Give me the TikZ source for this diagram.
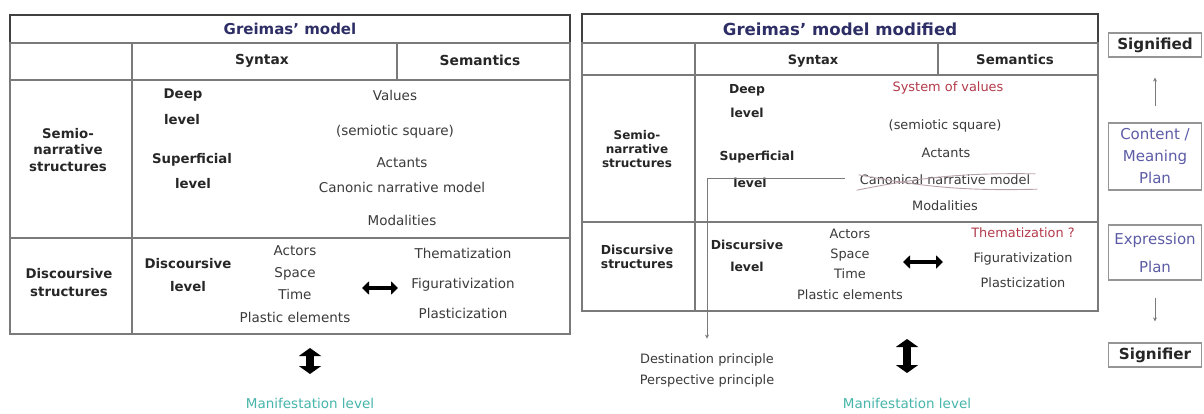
\documentclass[tikz,border=0pt]{standalone}
\usepackage{fontspec}
\setmainfont{DejaVu Sans}
\usetikzlibrary{positioning, arrows.meta, calc}
\definecolor{gmnavy}{HTML}{2E2E66}
\definecolor{gmred}{HTML}{B23A4A}
\definecolor{gmteal}{HTML}{45B5AA}
\definecolor{gmpurple}{HTML}{5C5CA6}
\definecolor{gmgrid}{HTML}{7A7A7A}
\definecolor{gmtext}{HTML}{3A3A3A}
\definecolor{gmcross}{HTML}{B8A2AA}

\begin{document}
\begin{tikzpicture}[x=1pt, y=-1pt,
    grid/.style={draw=gmgrid, line width=1.2pt},
    titlebox/.style={draw=black!75, line width=2pt},
    ttl/.style={font=\fontsize{15}{17}\selectfont\bfseries, text=gmnavy},
    hd/.style={font=\fontsize{13.8}{15}\selectfont\bfseries, text=black!85},
    lb/.style={font=\fontsize{13.3}{16.5}\selectfont\bfseries, text=black!85, align=center, inner sep=1pt},
    tx/.style={font=\fontsize{13.5}{15}\selectfont, text=gmtext, align=center, inner sep=1pt},
    lbr/.style={font=\fontsize{12.4}{14}\selectfont\bfseries, text=black!85, align=center, inner sep=1pt},
    txr/.style={font=\fontsize{12.9}{14}\selectfont, text=gmtext, align=center, inner sep=1pt},
    plan/.style={draw=gmgrid!80, line width=1.2pt, minimum width=93pt, inner sep=2pt, align=center},
    dbl/.style={line width=4pt, {Triangle[length=7pt,width=13pt]}-{Triangle[length=7pt,width=13pt]}},
    vdbl/.style={line width=8pt, {Triangle[length=8pt,width=22pt]}-{Triangle[length=8pt,width=22pt]}},
    link/.style={draw=gmgrid, line width=0.9pt, -{Stealth[length=4pt,width=4pt]}},
    cross/.style={draw=gmcross, line width=0.9pt}]
  \useasboundingbox (0,0) rectangle (1204,414);

  % Greimas' model
  \draw[titlebox] (10,15) rectangle (570,43);
  \node[ttl] (lttl) at (290,29) {Greimas' model};
  \draw[grid] (10,43) rectangle (570,334);
  \draw[grid] (10,80) -- (570,80);
  \draw[grid] (10,238) -- (570,238);
  \draw[grid] (132,43) -- (132,334);
  \draw[grid] (397,43) -- (397,80);
  \node[hd] (lsyn) at (262,61) {Syntax};
  \node[hd] (lsem) at (480,60) {Semantics};
  \node[lb] (lsemio) at (68,150) {Semio-\\narrative\\structures};
  \node[lb] (ldeep) at (183,95) {Deep};
  \node[lb] (ldeeplv) at (182,120) {level};
  \node[lb] (lsup) at (192,160) {Superficial};
  \node[lb] (lsuplv) at (193,184) {level};
  \node[tx] (lval) at (395,95) {Values};
  \node[tx] (lsq) at (395,132) {(semiotic square)};
  \node[tx] (lact) at (402,163) {Actants};
  \node[tx] (lcn) at (402,187) {Canonic narrative model};
  \node[tx] (lmod) at (402,220) {Modalities};
  \node[lb, font=\fontsize{13.3}{18}\selectfont\bfseries] (ldisc) at (69,283) {Discoursive\\structures};
  \node[lb] (ldlv) at (188,264) {Discoursive};
  \node[lb] (ldlv2) at (188,287) {level};
  \node[tx, font=\fontsize{13.5}{22.3}\selectfont] (lactors) at (295,284) {Actors\\Space\\Time\\Plastic elements};
  \node[tx, font=\fontsize{13.5}{30}\selectfont] (lthem) at (463,283) {Thematization\\Figurativization\\Plasticization};
  \coordinate (lha) at (362,288);
  \coordinate (lhb) at (398,288);
  \draw[dbl] (lha) -- (lhb);
  \coordinate (lva) at (310,348);
  \coordinate (lvb) at (310,374);
  \draw[vdbl] (lva) -- (lvb);
  \node[tx, text=gmteal] (lman) at (310,403) {Manifestation level};

  % Greimas' model modified
  \draw[titlebox] (582,14) rectangle (1098,43);
  \node[ttl, font=\fontsize{16.6}{18}\selectfont\bfseries] (rttl) at (840,29) {Greimas' model modified};
  \draw[grid] (582,43) rectangle (1098,311);
  \draw[grid] (582,75) -- (1098,75);
  \draw[grid] (582,222) -- (1098,222);
  \draw[grid] (695,43) -- (695,311);
  \draw[grid] (938,43) -- (938,75);
  \node[hd, font=\fontsize{13}{14}\selectfont\bfseries] (rsyn) at (813,61) {Syntax};
  \node[hd, font=\fontsize{13.3}{14}\selectfont\bfseries] (rsem) at (1015,60) {Semantics};
  \node[lbr, font=\fontsize{12}{14}\selectfont\bfseries] (rsemio) at (637,149) {Semio-\\narrative\\structures};
  \node[lbr] (rdeep) at (747,90) {Deep};
  \node[lbr] (rdeeplv) at (747,113) {level};
  \node[lbr] (rsup) at (757,157) {Superficial};
  \node[lbr] (rsuplv) at (750,183) {level};
  \node[txr, text=gmred] (rval) at (948,88) {System of values};
  \node[txr] (rsq) at (945,126) {(semiotic square)};
  \node[txr] (ract) at (946,153) {Actants};
  \node[txr] (rcn) at (945,180) {Canonical narrative model};
  \node[txr] (rmod) at (945,206) {Modalities};
  \draw[cross] ($(rcn.north west)+(0,1)$) to[bend right=6] ($(rcn.south east)+(6,3)$);
  \draw[cross] ($(rcn.south west)+(-2,4)$) to[bend left=6] ($(rcn.north east)+(4,0)$);
  \node[lbr] (rdisc) at (637,257) {Discursive\\structures};
  \node[lbr] (rdlv) at (747,245) {Discursive};
  \node[lbr] (rdlv2) at (747,267) {level};
  \node[txr, font=\fontsize{12.9}{20.3}\selectfont] (ractors) at (850,264) {Actors\\Space\\Time\\Plastic elements};
  \node[txr, text=gmred] (rthem) at (1023,233) {Thematization ?};
  \node[txr] (rfig) at (1023,259) {Figurativization};
  \node[txr] (rpla) at (1023,283) {Plasticization};
  \coordinate (rha) at (903,262);
  \coordinate (rhb) at (943,262);
  \draw[dbl] (rha) -- (rhb);
  \coordinate (rlvl) at (845,178);
  \node[txr] (rdest) at (707,360) {Destination principle};
  \node[txr] (rpers) at (707,381) {Perspective principle};
  \draw[link] (rlvl) -| ($(rdest.north)+(0,-14)$);
  \coordinate (rva) at (907,339);
  \coordinate (rvb) at (907,373);
  \draw[vdbl] (rva) -- (rvb);
  \node[tx, text=gmteal] (rman) at (907,403) {Manifestation level};

  % signified / signifier
  \node[plan, font=\fontsize{15.2}{16}\selectfont\bfseries, text=black!85, minimum height=24pt] (sfd) at (1155,45) {Signified};
  \node[plan, font=\fontsize{15}{22}\selectfont, text=gmpurple, minimum height=67pt] (cont) at (1155,156.5) {Content /\\Meaning\\Plan};
  \node[plan, font=\fontsize{15}{28}\selectfont, text=gmpurple, minimum height=55pt] (expr) at (1155,252.5) {Expression\\Plan};
  \node[plan, font=\fontsize{15.2}{16}\selectfont\bfseries, text=black!85, minimum height=24pt] (sfr) at (1155,355) {Signifier};
  \draw[link, shorten <=16pt, shorten >=20pt] (cont) -- (sfd);
  \draw[link, shorten <=17pt, shorten >=21pt] (expr) -- (sfr);
\end{tikzpicture}
\end{document}
